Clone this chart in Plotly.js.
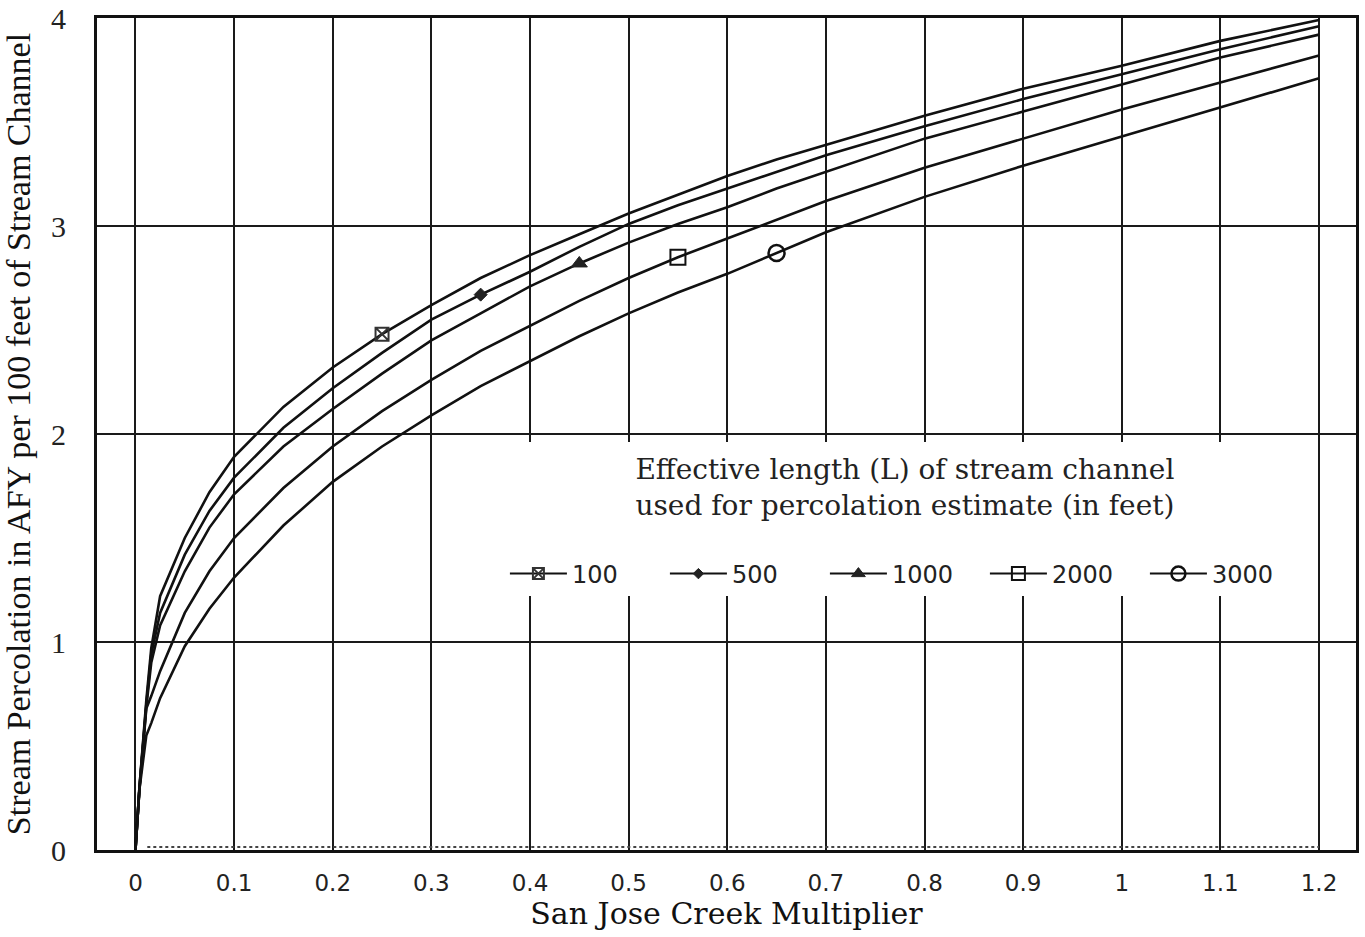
<!DOCTYPE html>
<html>
<head>
<meta charset="utf-8">
<script src="https://cdn.plot.ly/plotly-3.0.1.min.js"></script>
<style>
  html, body { margin: 0; padding: 0; background: #ffffff; }
  #chart { width: 1365px; height: 937px; }
</style>
</head>
<body>
<div id="chart"></div>
<script>
// San Jose Creek Multiplier (x)
const xMult = [0, 0.004, 0.011, 0.016, 0.025, 0.05, 0.075, 0.1, 0.15, 0.2, 0.25, 0.3, 0.35, 0.4, 0.45, 0.5, 0.55, 0.6, 0.65, 0.7, 0.8, 0.9, 1.0, 1.1, 1.2];

// Stream percolation (AFY per 100 ft) for each effective length L
const perc100  = [0, 0.30, 0.72, 0.97, 1.22, 1.50, 1.72, 1.89, 2.13, 2.32, 2.48, 2.62, 2.75, 2.86, 2.96, 3.06, 3.15, 3.24, 3.32, 3.39, 3.53, 3.66, 3.77, 3.89, 3.99];
const perc500  = [0, 0.30, 0.70, 0.94, 1.14, 1.42, 1.63, 1.79, 2.03, 2.22, 2.39, 2.55, 2.67, 2.78, 2.90, 3.01, 3.10, 3.18, 3.26, 3.34, 3.48, 3.61, 3.73, 3.85, 3.96];
const perc1000 = [0, 0.29, 0.69, 0.90, 1.08, 1.34, 1.55, 1.71, 1.94, 2.12, 2.29, 2.45, 2.58, 2.71, 2.82, 2.92, 3.01, 3.09, 3.18, 3.26, 3.42, 3.55, 3.68, 3.81, 3.92];
const perc2000 = [0, 0.29, 0.68, 0.74, 0.86, 1.14, 1.34, 1.50, 1.74, 1.94, 2.11, 2.26, 2.40, 2.52, 2.64, 2.75, 2.85, 2.94, 3.03, 3.12, 3.28, 3.42, 3.56, 3.69, 3.82];
const perc3000 = [0, 0.29, 0.55, 0.61, 0.73, 0.98, 1.16, 1.31, 1.56, 1.77, 1.94, 2.09, 2.23, 2.35, 2.47, 2.58, 2.68, 2.77, 2.87, 2.97, 3.14, 3.29, 3.43, 3.57, 3.71];

const seriesNames = ['100', '500', '1000', '2000', '3000'];
// which data points carry a marker for each series
const markerIdx = [[10], [12], [14], [16], [18]];

// dotted baseline near zero
const baseX = [0.012, 1.2];
const baseY = [0.015, 0.015];

const xTickVals = [0, 0.1, 0.2, 0.3, 0.4, 0.5, 0.6, 0.7, 0.8, 0.9, 1.0, 1.1, 1.2];
const xTickText = ['0', '0.1', '0.2', '0.3', '0.4', '0.5', '0.6', '0.7', '0.8', '0.9', '1', '1.1', '1.2'];
const yTickVals = [0, 1, 2, 3, 4];
const yTickText = ['0', '1', '2', '3', '4'];

const allSeries = [perc100, perc500, perc1000, perc2000, perc3000];
const symbols = [
  {symbol: 'square-x-open', size: 13, color: '#333', lw: 2},
  {symbol: 'diamond', size: 10, color: '#222', lw: 1},
  {symbol: 'triangle-up', size: 14, color: '#222', lw: 1},
  {symbol: 'square-open', size: 15, color: '#111', lw: 2},
  {symbol: 'circle-open', size: 16, color: '#111', lw: 2.5}
];

const lineStyle = {color: '#111', width: 2.6};
const traces = [];

allSeries.forEach((ys, k) => {
  traces.push({
    type: 'scatter', mode: 'lines', x: xMult, y: ys,
    line: lineStyle, showlegend: false, hoverinfo: 'skip'
  });
  traces.push({
    type: 'scatter', mode: 'markers',
    x: markerIdx[k].map(i => xMult[i]), y: markerIdx[k].map(i => ys[i]),
    marker: {symbol: symbols[k].symbol, size: symbols[k].size, color: symbols[k].color,
             line: {color: symbols[k].color, width: symbols[k].lw}},
    showlegend: false, hoverinfo: 'skip'
  });
});

traces.push({
  type: 'scatter', mode: 'lines', x: baseX, y: baseY,
  line: {color: '#444', width: 2, dash: 'dot'}, showlegend: false, hoverinfo: 'skip'
});

// legend entries
seriesNames.forEach((nm, k) => {
  traces.push({
    type: 'scatter', mode: 'lines+markers', x: [null], y: [null], name: nm,
    line: {color: '#111', width: 2},
    marker: {symbol: symbols[k].symbol, size: symbols[k].size - 2, color: symbols[k].color,
             line: {color: symbols[k].color, width: symbols[k].lw}},
    showlegend: true
  });
});

const layout = {
  width: 1365, height: 937,
  margin: {l: 97, r: 9, t: 18, b: 87},
  paper_bgcolor: '#ffffff', plot_bgcolor: '#ffffff',
  showlegend: true,
  xaxis: {
    range: [-0.039, 1.2375],
    tickvals: xTickVals, ticktext: xTickText,
    showgrid: true, gridcolor: '#1a1a1a', gridwidth: 2,
    showline: true, linecolor: '#111', linewidth: 3, mirror: true,
    zeroline: false, ticks: '',
    ticklabelstandoff: 10,
    tickfont: {family: 'DejaVu Sans', size: 23, color: '#222'},
    title: {text: 'San Jose Creek Multiplier', font: {family: 'DejaVu Serif', size: 30, color: '#111'}, standoff: 0}
  },
  yaxis: {
    range: [0, 4],
    tickvals: yTickVals, ticktext: yTickText,
    showgrid: true, gridcolor: '#1a1a1a', gridwidth: 2,
    showline: true, linecolor: '#111', linewidth: 3, mirror: true,
    zeroline: false, ticks: '',
    ticklabelstandoff: 22,
    tickfont: {family: 'Liberation Serif', size: 30, color: '#222'},
    title: {text: 'Stream Percolation in AFY per 100 feet of Stream Channel', font: {family: 'Liberation Serif', size: 34, color: '#111'}, standoff: 12}
  },
  legend: {
    orientation: 'h',
    x: 0.324, xanchor: 'left',
    y: 0.49, yanchor: 'top',
    bgcolor: '#ffffff', borderwidth: 0,
    entrywidth: 88, entrywidthmode: 'pixels',
    itemwidth: 57,
    font: {family: 'DejaVu Sans', size: 24, color: '#222'},
    title: {
      text: 'Effective length (L) of stream channel<br>used for percolation estimate (in feet)<br> ',
      side: 'top center',
      font: {family: 'DejaVu Serif', size: 28, color: '#222'}
    }
  }
};

Plotly.newPlot('chart', traces, layout, {displayModeBar: false, staticPlot: true});
</script>
</body>
</html>
